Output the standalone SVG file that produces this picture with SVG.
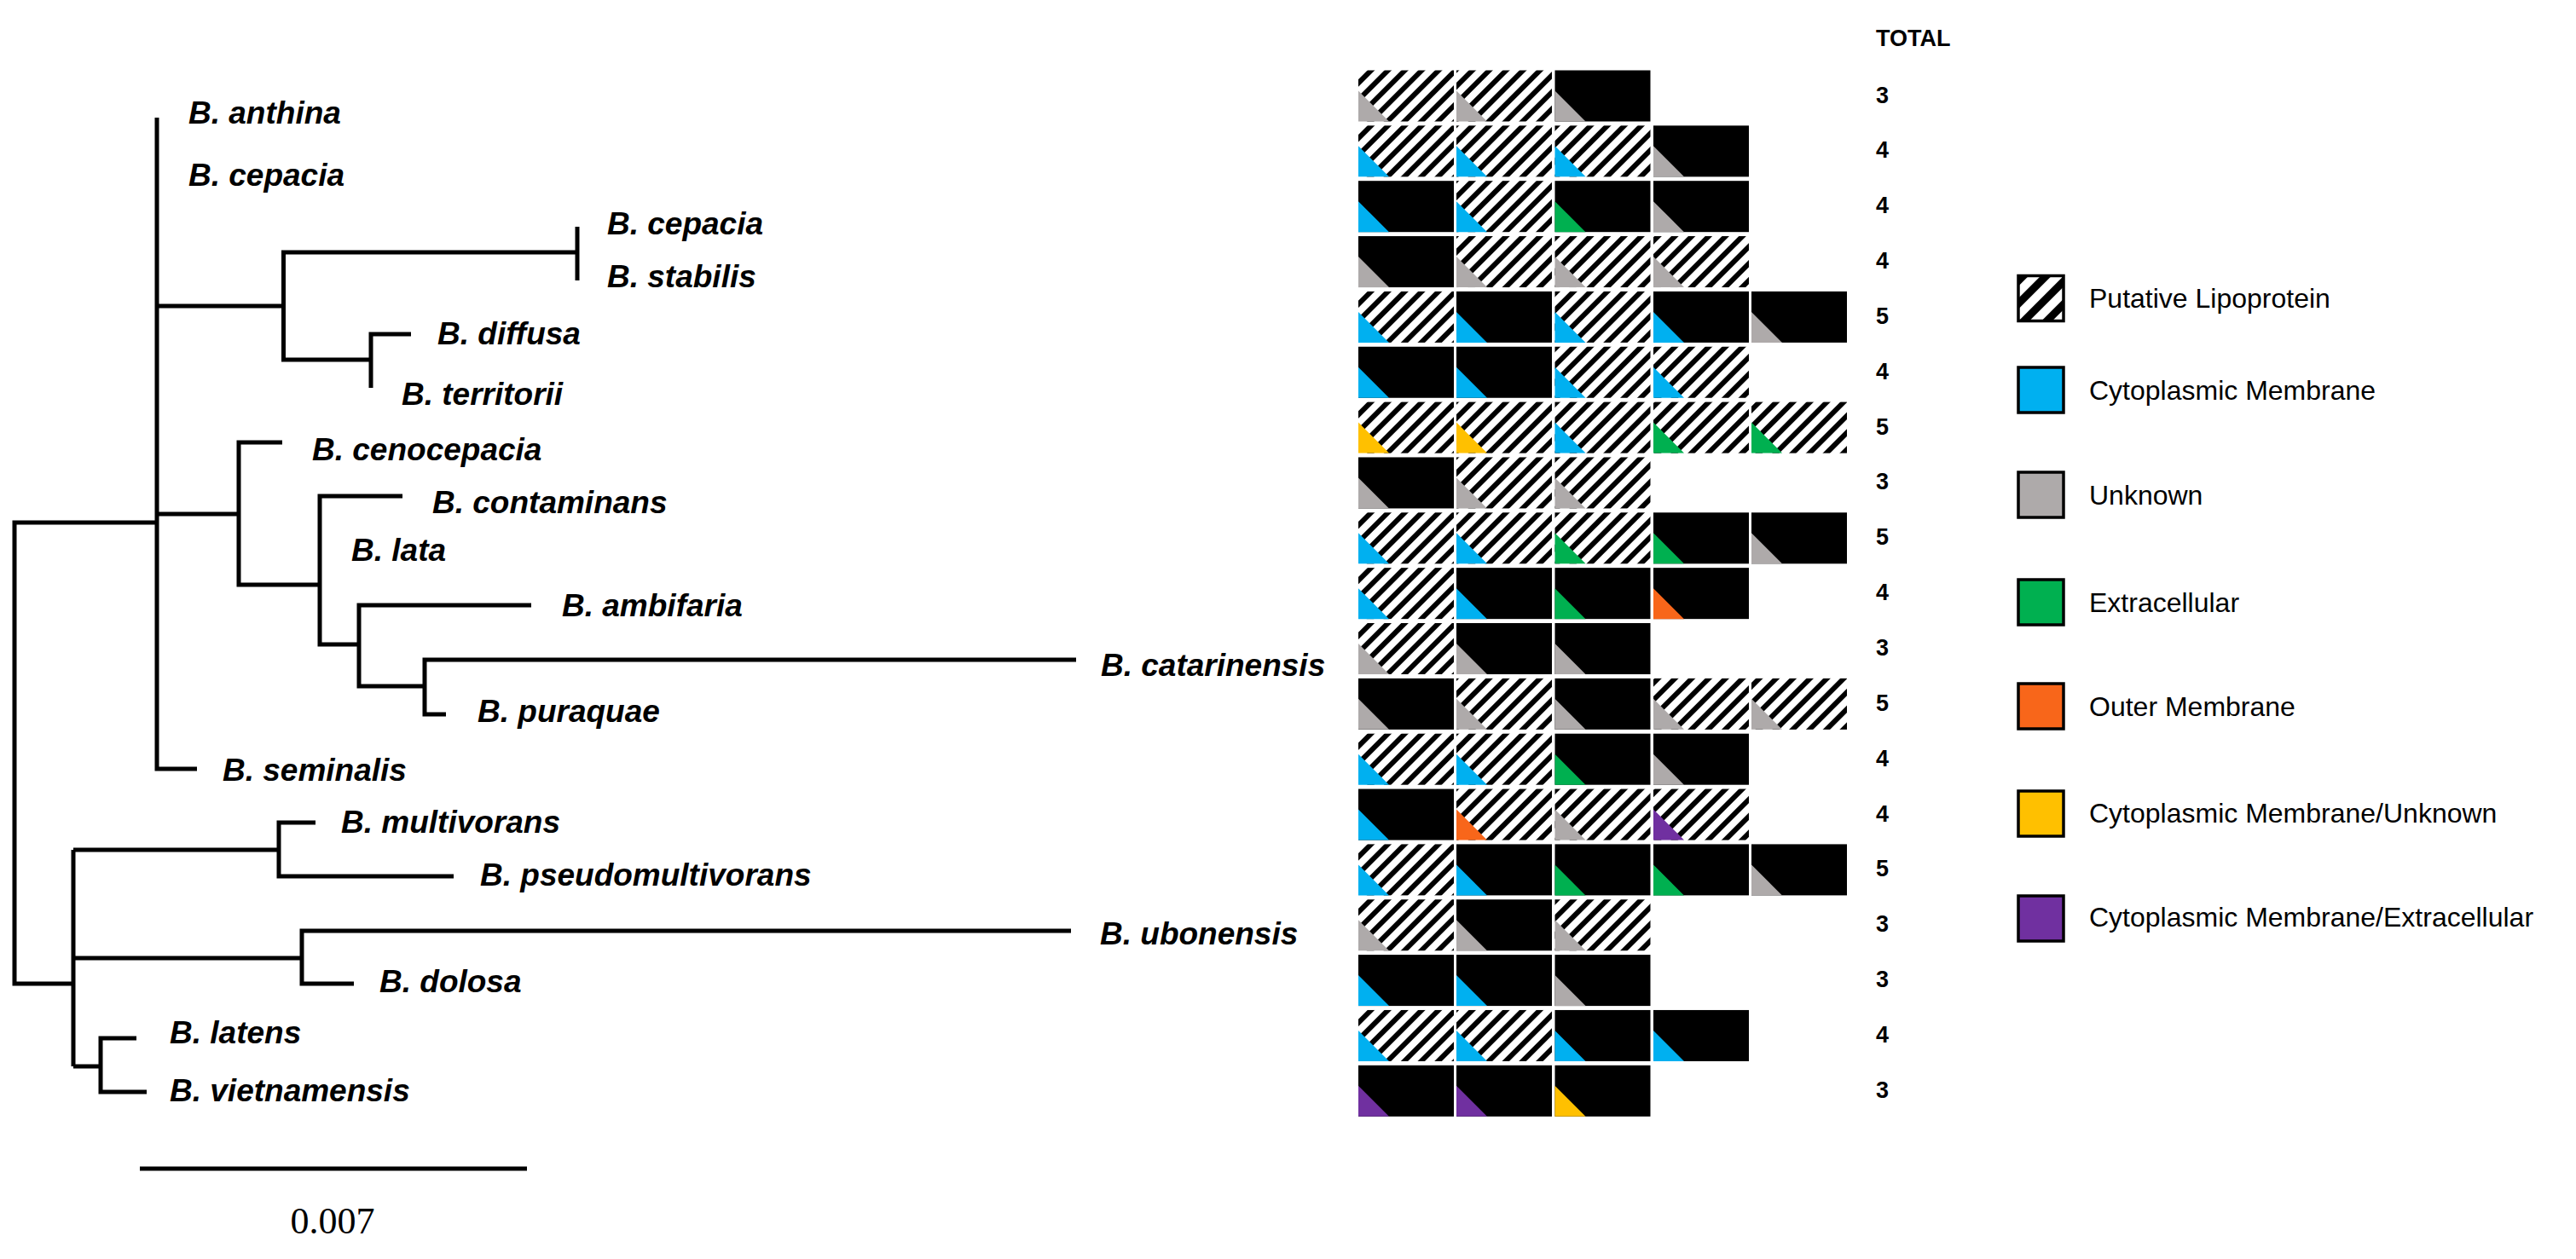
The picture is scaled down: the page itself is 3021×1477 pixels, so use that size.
<svg xmlns="http://www.w3.org/2000/svg" xmlns:xlink="http://www.w3.org/1999/xlink" width="3021" height="1477" viewBox="0 0 3021 1477">
<style>
.lbl{font-family:"Liberation Sans",Arial,sans-serif;font-weight:bold;font-style:italic;font-size:37px;fill:#000}
.tot{font-family:"Liberation Sans",Arial,sans-serif;font-weight:bold;font-size:27px;fill:#000}
.leg{font-family:"Liberation Sans",Arial,sans-serif;font-size:32px;fill:#000}
.scale{font-family:"Liberation Serif","Times New Roman",serif;font-size:44px;fill:#000}
.br{stroke:#000;stroke-width:5;fill:none;stroke-linejoin:miter;stroke-linecap:butt}
.H{fill:url(#hatch)}
.K{fill:#000}
.c{fill:#00B0F0}
.g{fill:#AEAAAA}
.e{fill:#00B050}
.o{fill:#F8661A}
.y{fill:#FFC000}
.p{fill:#7030A0}
.sw{stroke:#000;stroke-width:3.5}
</style>
<defs>
<pattern id="hatch" patternUnits="userSpaceOnUse" width="14" height="14" patternTransform="rotate(45)">
<rect width="14" height="14" fill="#fff"/>
<rect width="6" height="14" fill="#000"/>
</pattern>
<pattern id="hatchL" patternUnits="userSpaceOnUse" width="19" height="19" patternTransform="translate(2367,323) rotate(45)">
<rect width="19" height="19" fill="#fff"/>
<rect width="9" height="19" fill="#000"/>
</pattern>
<path id="tri" d="M0,-36 V0 H36 Z"/>
</defs>
<rect width="3021" height="1477" fill="#fff"/>

<g id="connectors">
<path class="br" d="M86,1154 H17 V613 H184"/>
<path class="br" d="M184,138 V902 H231"/>
<path class="br" d="M184,359 H332.5"/>
<path class="br" d="M677,296 H332.5 V422 H435"/>
<path class="br" d="M677,266 V329"/>
<path class="br" d="M482,392 H435 V455"/>
<path class="br" d="M184,603 H280"/>
<path class="br" d="M331,519 H280 V686 H375"/>
<path class="br" d="M472,582 H375 V756 H421"/>
<path class="br" d="M623,710 H421 V805 H498"/>
<path class="br" d="M1262,774 H498 V838 H523"/>
<path class="br" d="M86,997 V1251"/>
<path class="br" d="M86,997 H327"/>
<path class="br" d="M370,965 H327 V1028 H532"/>
<path class="br" d="M86,1124 H354"/>
<path class="br" d="M1256,1092 H354 V1154 H415"/>
<path class="br" d="M86,1251 H118"/>
<path class="br" d="M160,1218 H118 V1281 H172"/>
<path class="br" d="M164,1371 H618"/>
</g>

<g id="taxa">
<g id="t-anthina"><text class="lbl" x="221" y="145">B. anthina</text></g>
<g id="t-cepacia1"><text class="lbl" x="221" y="218">B. cepacia</text></g>
<g id="t-cepacia2"><text class="lbl" x="712" y="275">B. cepacia</text></g>
<g id="t-stabilis"><text class="lbl" x="712" y="337">B. stabilis</text></g>
<g id="t-diffusa"><text class="lbl" x="513" y="404">B. diffusa</text></g>
<g id="t-territorii"><text class="lbl" x="471" y="475">B. territorii</text></g>
<g id="t-cenocepacia"><text class="lbl" x="366" y="540">B. cenocepacia</text></g>
<g id="t-contaminans"><text class="lbl" x="507" y="602">B. contaminans</text></g>
<g id="t-lata"><text class="lbl" x="412" y="658">B. lata</text></g>
<g id="t-ambifaria"><text class="lbl" x="659" y="723">B. ambifaria</text></g>
<g id="t-catarinensis"><text class="lbl" x="1291" y="793">B. catarinensis</text></g>
<g id="t-puraquae"><text class="lbl" x="560" y="847">B. puraquae</text></g>
<g id="t-seminalis"><text class="lbl" x="261" y="916">B. seminalis</text></g>
<g id="t-multivorans"><text class="lbl" x="400" y="977">B. multivorans</text></g>
<g id="t-pseudomultivorans"><text class="lbl" x="563" y="1039">B. pseudomultivorans</text></g>
<g id="t-ubonensis"><text class="lbl" x="1290" y="1108">B. ubonensis</text></g>
<g id="t-dolosa"><text class="lbl" x="445" y="1164">B. dolosa</text></g>
<g id="t-latens"><text class="lbl" x="199" y="1224">B. latens</text></g>
<g id="t-vietnamensis"><text class="lbl" x="199" y="1292">B. vietnamensis</text></g>
<g id="scale-label"><text class="scale" x="390" y="1447" text-anchor="middle">0.007</text></g>
</g>

<g id="grid">
<g id="total-header"><text class="tot" x="2200" y="54">TOTAL</text></g>

<g id="r0" transform="translate(0,82.5)">
<rect class="H" x="1593" width="112" height="60"/><use xlink:href="#tri" class="g" x="1593" y="60"/>
<rect class="H" x="1708" width="112" height="60"/><use xlink:href="#tri" class="g" x="1708" y="60"/>
<rect class="K" x="1823.5" width="112" height="60"/><use xlink:href="#tri" class="g" x="1823.5" y="60"/>
<text class="tot" x="2200" y="38">3</text>
</g>
<g id="r1" transform="translate(0,147.35)">
<rect class="H" x="1593" width="112" height="60"/><use xlink:href="#tri" class="c" x="1593" y="60"/>
<rect class="H" x="1708" width="112" height="60"/><use xlink:href="#tri" class="c" x="1708" y="60"/>
<rect class="H" x="1823.5" width="112" height="60"/><use xlink:href="#tri" class="c" x="1823.5" y="60"/>
<rect class="K" x="1939" width="112" height="60"/><use xlink:href="#tri" class="g" x="1939" y="60"/>
<text class="tot" x="2200" y="38">4</text>
</g>
<g id="r2" transform="translate(0,212.2)">
<rect class="K" x="1593" width="112" height="60"/><use xlink:href="#tri" class="c" x="1593" y="60"/>
<rect class="H" x="1708" width="112" height="60"/><use xlink:href="#tri" class="c" x="1708" y="60"/>
<rect class="K" x="1823.5" width="112" height="60"/><use xlink:href="#tri" class="e" x="1823.5" y="60"/>
<rect class="K" x="1939" width="112" height="60"/><use xlink:href="#tri" class="g" x="1939" y="60"/>
<text class="tot" x="2200" y="38">4</text>
</g>
<g id="r3" transform="translate(0,277.05)">
<rect class="K" x="1593" width="112" height="60"/><use xlink:href="#tri" class="g" x="1593" y="60"/>
<rect class="H" x="1708" width="112" height="60"/><use xlink:href="#tri" class="g" x="1708" y="60"/>
<rect class="H" x="1823.5" width="112" height="60"/><use xlink:href="#tri" class="g" x="1823.5" y="60"/>
<rect class="H" x="1939" width="112" height="60"/><use xlink:href="#tri" class="g" x="1939" y="60"/>
<text class="tot" x="2200" y="38">4</text>
</g>
<g id="r4" transform="translate(0,341.9)">
<rect class="H" x="1593" width="112" height="60"/><use xlink:href="#tri" class="c" x="1593" y="60"/>
<rect class="K" x="1708" width="112" height="60"/><use xlink:href="#tri" class="c" x="1708" y="60"/>
<rect class="H" x="1823.5" width="112" height="60"/><use xlink:href="#tri" class="c" x="1823.5" y="60"/>
<rect class="K" x="1939" width="112" height="60"/><use xlink:href="#tri" class="c" x="1939" y="60"/>
<rect class="K" x="2054" width="112" height="60"/><use xlink:href="#tri" class="g" x="2054" y="60"/>
<text class="tot" x="2200" y="38">5</text>
</g>
<g id="r5" transform="translate(0,406.75)">
<rect class="K" x="1593" width="112" height="60"/><use xlink:href="#tri" class="c" x="1593" y="60"/>
<rect class="K" x="1708" width="112" height="60"/><use xlink:href="#tri" class="c" x="1708" y="60"/>
<rect class="H" x="1823.5" width="112" height="60"/><use xlink:href="#tri" class="c" x="1823.5" y="60"/>
<rect class="H" x="1939" width="112" height="60"/><use xlink:href="#tri" class="c" x="1939" y="60"/>
<text class="tot" x="2200" y="38">4</text>
</g>
<g id="r6" transform="translate(0,471.6)">
<rect class="H" x="1593" width="112" height="60"/><use xlink:href="#tri" class="y" x="1593" y="60"/>
<rect class="H" x="1708" width="112" height="60"/><use xlink:href="#tri" class="y" x="1708" y="60"/>
<rect class="H" x="1823.5" width="112" height="60"/><use xlink:href="#tri" class="c" x="1823.5" y="60"/>
<rect class="H" x="1939" width="112" height="60"/><use xlink:href="#tri" class="e" x="1939" y="60"/>
<rect class="H" x="2054" width="112" height="60"/><use xlink:href="#tri" class="e" x="2054" y="60"/>
<text class="tot" x="2200" y="38">5</text>
</g>
<g id="r7" transform="translate(0,536.45)">
<rect class="K" x="1593" width="112" height="60"/><use xlink:href="#tri" class="g" x="1593" y="60"/>
<rect class="H" x="1708" width="112" height="60"/><use xlink:href="#tri" class="g" x="1708" y="60"/>
<rect class="H" x="1823.5" width="112" height="60"/><use xlink:href="#tri" class="g" x="1823.5" y="60"/>
<text class="tot" x="2200" y="38">3</text>
</g>
<g id="r8" transform="translate(0,601.3)">
<rect class="H" x="1593" width="112" height="60"/><use xlink:href="#tri" class="c" x="1593" y="60"/>
<rect class="H" x="1708" width="112" height="60"/><use xlink:href="#tri" class="c" x="1708" y="60"/>
<rect class="H" x="1823.5" width="112" height="60"/><use xlink:href="#tri" class="e" x="1823.5" y="60"/>
<rect class="K" x="1939" width="112" height="60"/><use xlink:href="#tri" class="e" x="1939" y="60"/>
<rect class="K" x="2054" width="112" height="60"/><use xlink:href="#tri" class="g" x="2054" y="60"/>
<text class="tot" x="2200" y="38">5</text>
</g>
<g id="r9" transform="translate(0,666.15)">
<rect class="H" x="1593" width="112" height="60"/><use xlink:href="#tri" class="c" x="1593" y="60"/>
<rect class="K" x="1708" width="112" height="60"/><use xlink:href="#tri" class="c" x="1708" y="60"/>
<rect class="K" x="1823.5" width="112" height="60"/><use xlink:href="#tri" class="e" x="1823.5" y="60"/>
<rect class="K" x="1939" width="112" height="60"/><use xlink:href="#tri" class="o" x="1939" y="60"/>
<text class="tot" x="2200" y="38">4</text>
</g>
<g id="r10" transform="translate(0,731)">
<rect class="H" x="1593" width="112" height="60"/><use xlink:href="#tri" class="g" x="1593" y="60"/>
<rect class="K" x="1708" width="112" height="60"/><use xlink:href="#tri" class="g" x="1708" y="60"/>
<rect class="K" x="1823.5" width="112" height="60"/><use xlink:href="#tri" class="g" x="1823.5" y="60"/>
<text class="tot" x="2200" y="38">3</text>
</g>
<g id="r11" transform="translate(0,795.85)">
<rect class="K" x="1593" width="112" height="60"/><use xlink:href="#tri" class="g" x="1593" y="60"/>
<rect class="H" x="1708" width="112" height="60"/><use xlink:href="#tri" class="g" x="1708" y="60"/>
<rect class="K" x="1823.5" width="112" height="60"/><use xlink:href="#tri" class="g" x="1823.5" y="60"/>
<rect class="H" x="1939" width="112" height="60"/><use xlink:href="#tri" class="g" x="1939" y="60"/>
<rect class="H" x="2054" width="112" height="60"/><use xlink:href="#tri" class="g" x="2054" y="60"/>
<text class="tot" x="2200" y="38">5</text>
</g>
<g id="r12" transform="translate(0,860.7)">
<rect class="H" x="1593" width="112" height="60"/><use xlink:href="#tri" class="c" x="1593" y="60"/>
<rect class="H" x="1708" width="112" height="60"/><use xlink:href="#tri" class="c" x="1708" y="60"/>
<rect class="K" x="1823.5" width="112" height="60"/><use xlink:href="#tri" class="e" x="1823.5" y="60"/>
<rect class="K" x="1939" width="112" height="60"/><use xlink:href="#tri" class="g" x="1939" y="60"/>
<text class="tot" x="2200" y="38">4</text>
</g>
<g id="r13" transform="translate(0,925.55)">
<rect class="K" x="1593" width="112" height="60"/><use xlink:href="#tri" class="c" x="1593" y="60"/>
<rect class="H" x="1708" width="112" height="60"/><use xlink:href="#tri" class="o" x="1708" y="60"/>
<rect class="H" x="1823.5" width="112" height="60"/><use xlink:href="#tri" class="g" x="1823.5" y="60"/>
<rect class="H" x="1939" width="112" height="60"/><use xlink:href="#tri" class="p" x="1939" y="60"/>
<text class="tot" x="2200" y="38">4</text>
</g>
<g id="r14" transform="translate(0,990.4)">
<rect class="H" x="1593" width="112" height="60"/><use xlink:href="#tri" class="c" x="1593" y="60"/>
<rect class="K" x="1708" width="112" height="60"/><use xlink:href="#tri" class="c" x="1708" y="60"/>
<rect class="K" x="1823.5" width="112" height="60"/><use xlink:href="#tri" class="e" x="1823.5" y="60"/>
<rect class="K" x="1939" width="112" height="60"/><use xlink:href="#tri" class="e" x="1939" y="60"/>
<rect class="K" x="2054" width="112" height="60"/><use xlink:href="#tri" class="g" x="2054" y="60"/>
<text class="tot" x="2200" y="38">5</text>
</g>
<g id="r15" transform="translate(0,1055.25)">
<rect class="H" x="1593" width="112" height="60"/><use xlink:href="#tri" class="g" x="1593" y="60"/>
<rect class="K" x="1708" width="112" height="60"/><use xlink:href="#tri" class="g" x="1708" y="60"/>
<rect class="H" x="1823.5" width="112" height="60"/><use xlink:href="#tri" class="g" x="1823.5" y="60"/>
<text class="tot" x="2200" y="38">3</text>
</g>
<g id="r16" transform="translate(0,1120.1)">
<rect class="K" x="1593" width="112" height="60"/><use xlink:href="#tri" class="c" x="1593" y="60"/>
<rect class="K" x="1708" width="112" height="60"/><use xlink:href="#tri" class="c" x="1708" y="60"/>
<rect class="K" x="1823.5" width="112" height="60"/><use xlink:href="#tri" class="g" x="1823.5" y="60"/>
<text class="tot" x="2200" y="38">3</text>
</g>
<g id="r17" transform="translate(0,1184.95)">
<rect class="H" x="1593" width="112" height="60"/><use xlink:href="#tri" class="c" x="1593" y="60"/>
<rect class="H" x="1708" width="112" height="60"/><use xlink:href="#tri" class="c" x="1708" y="60"/>
<rect class="K" x="1823.5" width="112" height="60"/><use xlink:href="#tri" class="c" x="1823.5" y="60"/>
<rect class="K" x="1939" width="112" height="60"/><use xlink:href="#tri" class="c" x="1939" y="60"/>
<text class="tot" x="2200" y="38">4</text>
</g>
<g id="r18" transform="translate(0,1249.8)">
<rect class="K" x="1593" width="112" height="60"/><use xlink:href="#tri" class="p" x="1593" y="60"/>
<rect class="K" x="1708" width="112" height="60"/><use xlink:href="#tri" class="p" x="1708" y="60"/>
<rect class="K" x="1823.5" width="112" height="60"/><use xlink:href="#tri" class="y" x="1823.5" y="60"/>
<text class="tot" x="2200" y="38">3</text>
</g>
</g>

<g id="legend">
<g id="leg-lipo"><rect class="sw" x="2367" y="323.5" width="53" height="53" fill="url(#hatchL)"/><text class="leg" x="2450" y="361">Putative Lipoprotein</text></g>
<g id="leg-cyto"><rect class="sw c" x="2367" y="431" width="53" height="53"/><text class="leg" x="2450" y="469">Cytoplasmic Membrane</text></g>
<g id="leg-unknown"><rect class="sw g" x="2367" y="554" width="53" height="53"/><text class="leg" x="2450" y="592">Unknown</text></g>
<g id="leg-extra"><rect class="sw e" x="2367" y="680" width="53" height="53"/><text class="leg" x="2450" y="718">Extracellular</text></g>
<g id="leg-outer"><rect class="sw o" x="2367" y="802" width="53" height="53"/><text class="leg" x="2450" y="840">Outer Membrane</text></g>
<g id="leg-cyto-unk"><rect class="sw y" x="2367" y="928" width="53" height="53"/><text class="leg" x="2450" y="965">Cytoplasmic Membrane/Unknown</text></g>
<g id="leg-cyto-extra"><rect class="sw p" x="2367" y="1051" width="53" height="53"/><text class="leg" x="2450" y="1087">Cytoplasmic Membrane/Extracellular</text></g>
</g>
</svg>
